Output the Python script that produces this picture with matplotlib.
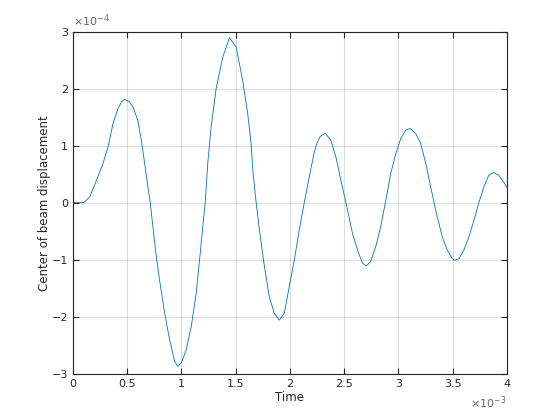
import numpy as np
import matplotlib
matplotlib.use("Agg")
from matplotlib import pyplot as plt

# time in units of 1e-3, displacement in units of 1e-4
time_ms = [0.000, 0.100, 0.156, 0.218, 0.279, 0.325, 0.371, 0.417, 0.450, 0.478,
           0.520, 0.554, 0.600, 0.632, 0.662, 0.692, 0.714, 0.738, 0.770, 0.800,
           0.846, 0.892, 0.938, 0.968, 1.000, 1.045, 1.092, 1.137, 1.168, 1.198,
           1.220, 1.244, 1.275, 1.321, 1.382, 1.444, 1.505, 1.566, 1.612, 1.643,
           1.660, 1.690, 1.720, 1.766, 1.811, 1.857, 1.903, 1.949, 1.995, 2.041,
           2.087, 2.133, 2.179, 2.225, 2.250, 2.280, 2.326, 2.379, 2.425, 2.471,
           2.517, 2.578, 2.624, 2.670, 2.706, 2.746, 2.792, 2.838, 2.885, 2.930,
           2.977, 3.022, 3.068, 3.108, 3.160, 3.206, 3.252, 3.298, 3.344, 3.405,
           3.451, 3.497, 3.522, 3.559, 3.605, 3.651, 3.697, 3.743, 3.789, 3.834,
           3.880, 3.926, 3.972, 4.000]
disp_e4 = [0.00, 0.00, 0.10, 0.39, 0.69, 0.98, 1.39, 1.65, 1.77, 1.81,
           1.77, 1.68, 1.44, 1.09, 0.69, 0.28, 0.00, -0.42, -0.95, -1.36,
           -1.93, -2.40, -2.78, -2.87, -2.81, -2.58, -2.17, -1.59, -1.01, -0.42,
           0.00, 0.69, 1.33, 2.00, 2.55, 2.89, 2.73, 2.14, 1.56, 1.05,
           0.55, 0.00, -0.48, -1.12, -1.65, -1.94, -2.06, -1.94, -1.47, -1.01,
           -0.48, 0.00, 0.45, 0.88, 1.04, 1.16, 1.22, 1.09, 0.80, 0.39,
           0.00, -0.54, -0.83, -1.06, -1.11, -1.03, -0.77, -0.42, 0.04, 0.51,
           0.86, 1.12, 1.27, 1.30, 1.21, 1.04, 0.70, 0.28, -0.13, -0.60,
           -0.83, -0.98, -1.01, -0.98, -0.83, -0.60, -0.31, 0.00, 0.28, 0.48,
           0.53, 0.48, 0.36, 0.27]

xticks = [0, 0.5, 1, 1.5, 2, 2.5, 3, 3.5, 4]
xticklabels = ["0", "0.5", "1", "1.5", "2", "2.5", "3", "3.5", "4"]
yticks = [-3, -2, -1, 0, 1, 2, 3]

fg = (0.15, 0.15, 0.15)
plt.rcParams['font.family'] = ['DejaVu Sans']

fig = plt.figure(figsize=(5.6, 4.2), dpi=100)
ax = fig.add_axes([0.13, 0.11, 0.775, 0.815])
ax.plot(time_ms, disp_e4, color='#0072BD', lw=0.6)

ax.set_xlim(0, 4)
ax.set_ylim(-3, 3)
ax.set_xticks(xticks)
ax.set_xticklabels(xticklabels)
ax.set_yticks(yticks)
ax.grid(True, color=fg, alpha=0.15, lw=0.8)
ax.tick_params(direction='in', length=4, width=0.8, colors=fg, labelsize=8,
               top=True, right=True, labelcolor=fg)
for s in ax.spines.values():
    s.set_color(fg)
    s.set_linewidth(0.8)

ax.set_xlabel("Time", fontsize=8.5, color=fg, labelpad=2)
ax.set_ylabel("Center of beam displacement", fontsize=8.5, color=fg, labelpad=0.5)

ax.text(0.0, 1.008, r"$\times10^{-4}$", transform=ax.transAxes, fontsize=8,
        color=(0.4, 0.4, 0.4), ha='left', va='bottom')
ax.text(1.0, -0.06, r"$\times10^{-3}$", transform=ax.transAxes, fontsize=8,
        color=(0.4, 0.4, 0.4), ha='right', va='top')

fig.savefig("out.png", dpi=100)
